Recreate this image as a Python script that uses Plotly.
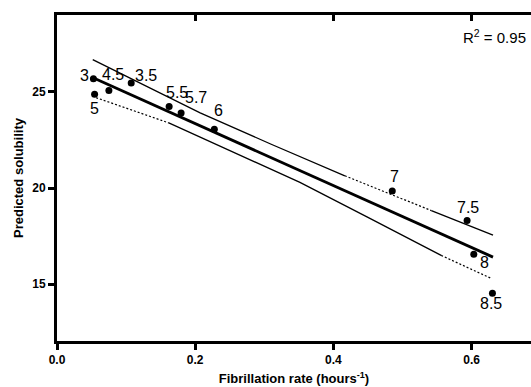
import plotly.graph_objects as go

# ---- data ----
rate = [0.0527, 0.0544, 0.0751, 0.1074, 0.1623, 0.1796, 0.2277, 0.4852, 0.5935, 0.6032, 0.6302]
solubility = [25.68, 24.88, 25.07, 25.46, 24.24, 23.91, 23.06, 19.85, 18.31, 16.56, 14.53]
labels = ["3", "5", "4.5", "3.5", "5.5", "5.7", "6", "7", "7.5", "8", "8.5"]

fit_x = [0.053, 0.631]
fit_y = [25.72, 16.41]

upper_x = [0.0517, 0.2072, 0.31, 0.4166, 0.5418, 0.631]
upper_y = [26.68, 23.91, 22.28, 20.64, 18.83, 17.56]
lower_x = [0.0566, 0.161, 0.265, 0.3516, 0.45, 0.556, 0.627]
lower_y = [24.70, 23.40, 21.73, 20.30, 18.48, 16.50, 15.33]

x_ticks = [0.0, 0.2, 0.4, 0.6]
y_ticks = [15, 20, 25]
r2_text = "R<sup>2</sup> = 0.95"

# ---- styles ----
upper_dash = ["solid", "solid", "solid", "dot", "solid"]
lower_dash = ["dot", "solid", "solid", "solid", "solid", "dot"]
label_offsets = {  # pixel offsets (dx right, dy up) of each label from its point
    "3": (-9, 3), "5": (0, -14), "4.5": (4, 16), "3.5": (15, 8),
    "5.5": (8, 14), "5.7": (15, 15), "6": (4, 19), "7": (2, 14),
    "7.5": (1, 13), "8": (11, -8), "8.5": (-1, -10),
}

FONT = "Liberation Sans, Arial, sans-serif"
fig = go.Figure()


def add_band(xs, ys, dashes):
    # merge consecutive segments with the same dash style
    i = 0
    n = len(dashes)
    while i < n:
        j = i
        while j + 1 < n and dashes[j + 1] == dashes[i]:
            j += 1
        d = dashes[i]
        fig.add_trace(go.Scatter(
            x=xs[i:j + 2], y=ys[i:j + 2], mode="lines",
            line=dict(color="black", width=1.3 if d == "solid" else 1.2,
                      dash="solid" if d == "solid" else "2px,2px"),
            showlegend=False, hoverinfo="skip"))
        i = j + 1


add_band(upper_x, upper_y, upper_dash)
add_band(lower_x, lower_y, lower_dash)

fig.add_trace(go.Scatter(x=fit_x, y=fit_y, mode="lines",
                         line=dict(color="black", width=2.8),
                         showlegend=False, hoverinfo="skip"))

fig.add_trace(go.Scatter(x=rate, y=solubility, mode="markers",
                         marker=dict(color="black", size=7),
                         showlegend=False))

# invisible trace on the top (mirror) axis
fig.add_trace(go.Scatter(x=rate, y=solubility, mode="markers", xaxis="x2",
                         marker=dict(opacity=0), showlegend=False, hoverinfo="skip"))

for xv, yv, lab in zip(rate, solubility, labels):
    dx, dy = label_offsets[lab]
    fig.add_annotation(x=xv, y=yv, text=lab, showarrow=False,
                       xanchor="center", yanchor="middle",
                       xshift=dx, yshift=dy,
                       font=dict(family=FONT, size=16, color="black"))

fig.add_annotation(x=0.994, y=0.933, xref="paper", yref="paper", text=r2_text,
                   showarrow=False, xanchor="right", yanchor="middle",
                   font=dict(family=FONT, size=15, color="black"))

xr = [0, 0.686]
fig.update_layout(
    width=531, height=387,
    margin=dict(l=57, r=0, t=15, b=46),
    paper_bgcolor="white", plot_bgcolor="white",
    font=dict(family=FONT, color="black"),
    xaxis=dict(range=xr, tickvals=x_ticks, ticktext=[f"{v:.1f}" for v in x_ticks],
               showgrid=False, zeroline=False, showline=True, linecolor="black",
               linewidth=3, ticks="outside", ticklen=6, tickwidth=3, tickcolor="black",
               tickfont=dict(family=FONT, size=12, color="black", weight="bold"),
               title=dict(text="<b>Fibrillation rate (hours<sup>-1</sup>)</b>",
                          font=dict(family=FONT, size=13, color="black"), standoff=8)),
    xaxis2=dict(range=xr, overlaying="x", side="top", anchor="y",
                tickvals=x_ticks, showticklabels=False, showgrid=False, zeroline=False,
                showline=True, linecolor="black", linewidth=3,
                ticks="inside", ticklen=6, tickwidth=3, tickcolor="black"),
    yaxis=dict(range=[12.05, 29.0], tickvals=y_ticks, showgrid=False, zeroline=False,
               showline=True, linecolor="black", linewidth=3,
               ticks="outside", ticklen=6, tickwidth=3, tickcolor="black",
               tickfont=dict(family=FONT, size=12, color="black", weight="bold"),
               title=dict(text="<b>Predicted solubility</b>",
                          font=dict(family=FONT, size=13, color="black"), standoff=6)),
)

fig.write_html("out.html")
